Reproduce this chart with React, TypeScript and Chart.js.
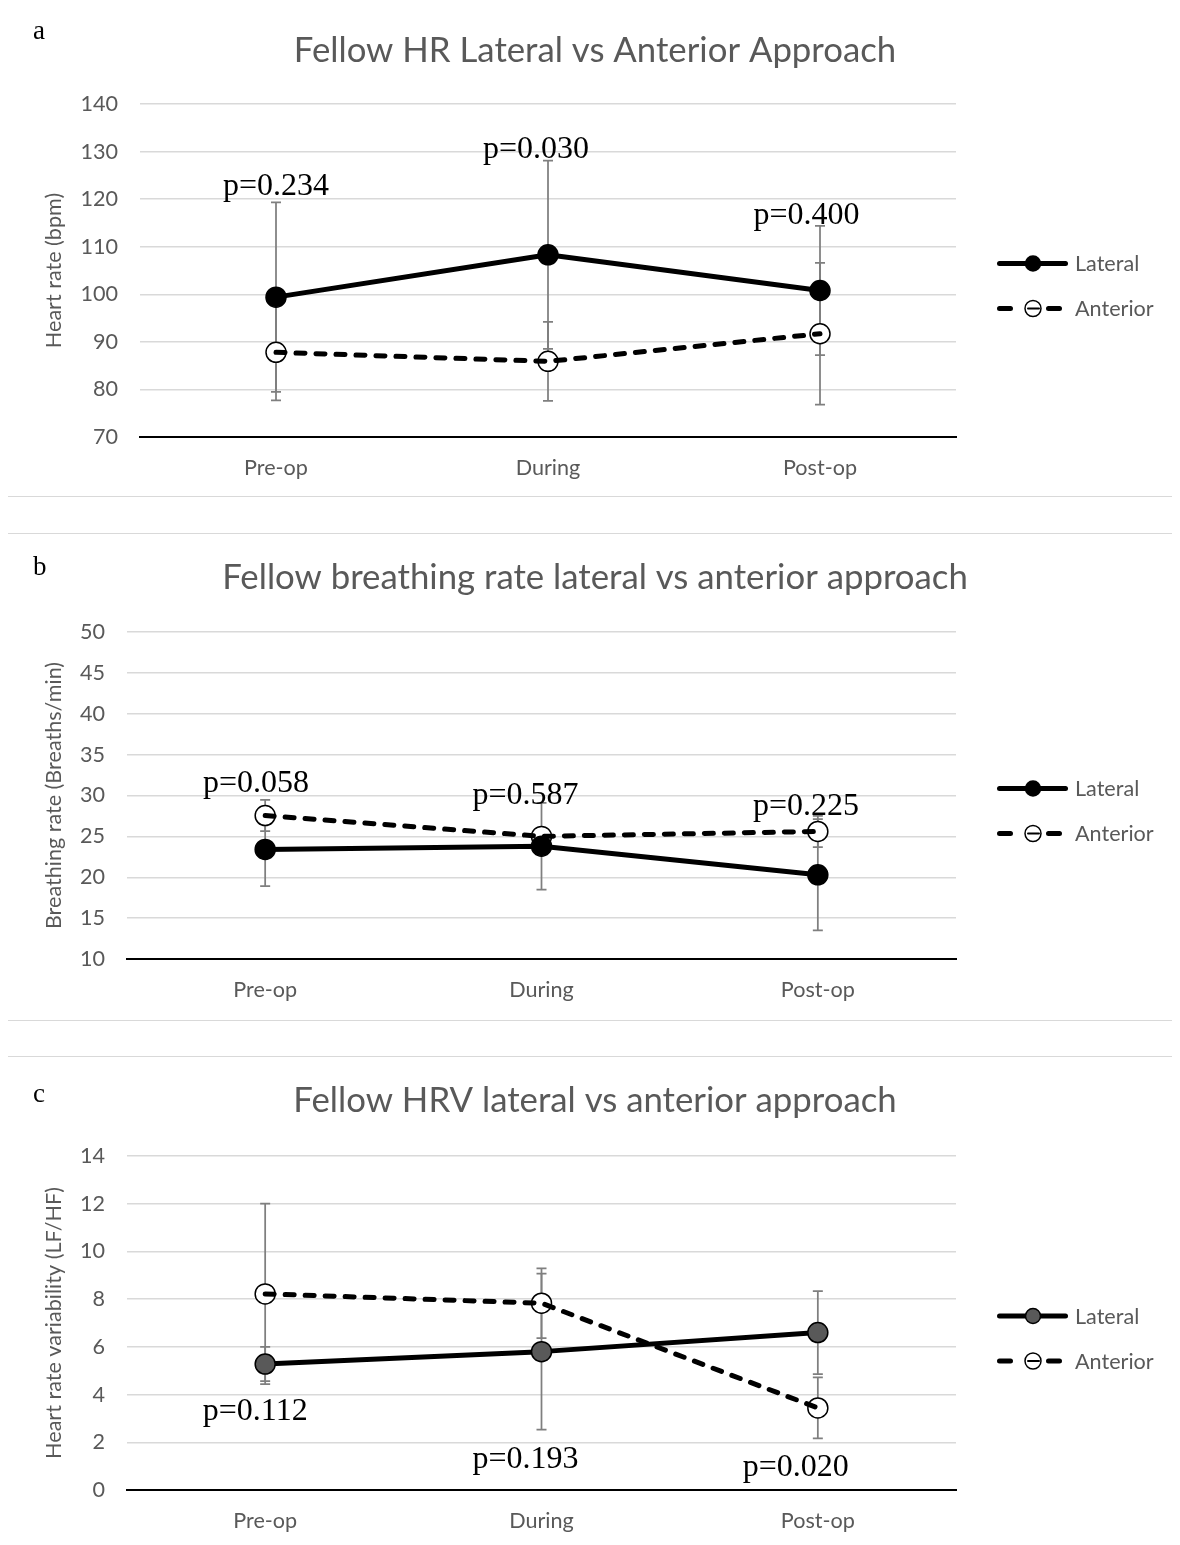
import React, { useEffect, useRef } from "react";
import { Chart, registerables } from "chart.js";

Chart.register(...registerables);

// ---------- data ----------
const categories = ["Pre-op", "During", "Post-op"];
const seriesNames = ["Lateral", "Anterior"];

// a — heart rate (bpm)
const hrTicks = [70, 80, 90, 100, 110, 120, 130, 140];
const hrLateral = [99.4, 108.3, 100.8];
const hrLateralErr = [19.9, 19.8, 13.6];
const hrAnterior = [87.8, 85.9, 91.7];
const hrAnteriorErr = [10.1, 8.3, 14.9];
const hrPText = ["p=0.234", "p=0.030", "p=0.400"];
const hrPAt = [123.2, 130.9, 117.1];
const hrPShift = [0, -0.044, -0.05];

// b — breathing rate (breaths/min)
const brTicks = [10, 15, 20, 25, 30, 35, 40, 45, 50];
const brLateral = [23.4, 23.8, 20.3];
const brLateralErr = [4.5, 5.3, 6.8];
const brAnterior = [27.55, 25.0, 25.6];
const brAnteriorErr = [1.9, 1.0, 1.9];
const brPText = ["p=0.058", "p=0.587", "p=0.225"];
const brPAt = [31.75, 30.24, 28.95];
const brPShift = [-0.033, -0.058, -0.043];

// c — heart rate variability (LF/HF)
const hrvTicks = [0, 2, 4, 6, 8, 10, 12, 14];
const hrvLateral = [5.28, 5.8, 6.6];
const hrvLateralErr = [0.72, 3.27, 1.74];
const hrvAnterior = [8.22, 7.83, 3.44];
const hrvAnteriorErr = [3.78, 1.46, 1.28];
const hrvPText = ["p=0.112", "p=0.193", "p=0.020"];
const hrvPAt = [3.37, 1.37, 1.03];
const hrvPShift = [-0.036, -0.058, -0.08];

// ---------- panel layout ----------
type PanelDef = {
  letter: string;
  title: string;
  yTitle: string;
  ticks: number[];
  lateral: number[];
  lateralErr: number[];
  anterior: number[];
  anteriorErr: number[];
  pText: string[];
  pAt: number[];
  pShift: number[];
  lateralFill: string;
  height: number;
  area: { left: number; top: number; bottom: number };
  letterY: number;
  titleY: number;
  gapAfter: number;
};

const panels: PanelDef[] = [
  {
    letter: "a",
    title: "Fellow HR Lateral vs Anterior Approach",
    yTitle: "Heart rate (bpm)",
    ticks: hrTicks,
    lateral: hrLateral,
    lateralErr: hrLateralErr,
    anterior: hrAnterior,
    anteriorErr: hrAnteriorErr,
    pText: hrPText,
    pAt: hrPAt,
    pShift: hrPShift,
    lateralFill: "#000000",
    height: 488,
    area: { left: 132, top: 96, bottom: 429 },
    letterY: 31,
    titleY: 54,
    gapAfter: 36,
  },
  {
    letter: "b",
    title: "Fellow breathing rate lateral vs anterior approach",
    yTitle: "Breathing rate (Breaths/min)",
    ticks: brTicks,
    lateral: brLateral,
    lateralErr: brLateralErr,
    anterior: brAnterior,
    anteriorErr: brAnteriorErr,
    pText: brPText,
    pAt: brPAt,
    pShift: brPShift,
    lateralFill: "#000000",
    height: 486,
    area: { left: 119, top: 98, bottom: 425 },
    letterY: 41,
    titleY: 55,
    gapAfter: 35,
  },
  {
    letter: "c",
    title: "Fellow HRV lateral vs anterior approach",
    yTitle: "Heart rate variability (LF/HF)",
    ticks: hrvTicks,
    lateral: hrvLateral,
    lateralErr: hrvLateralErr,
    anterior: hrvAnterior,
    anteriorErr: hrvAnteriorErr,
    pText: hrvPText,
    pAt: hrvPAt,
    pShift: hrvPShift,
    lateralFill: "#595959",
    height: 488,
    area: { left: 119, top: 99, bottom: 433 },
    letterY: 45,
    titleY: 55,
    gapAfter: 0,
  },
];

const CANVAS_W = 1164;
const PLOT_RIGHT = 948;
const GREY_TEXT = "#595959";
const SANS = "Lato";
const SERIF = '"Liberation Serif", "Times New Roman", serif';

function fitSize(font: string, sample: string, target: number) {
  const c = document.createElement("canvas").getContext("2d")!;
  c.font = font.replace("{s}", "100px");
  const w = c.measureText(sample).width;
  return w > 0 ? (100 * target) / w : 20;
}

function PanelChart({ p }: { p: PanelDef }) {
  const ref = useRef<HTMLCanvasElement>(null);

  useEffect(() => {
    const canvas = ref.current;
    if (!canvas) return;

    const titleSize = fitSize(
      `400 {s} ${SANS}`,
      "Fellow breathing rate lateral vs anterior approach",
      746
    );
    const labelSize = fitSize(`400 {s} ${SANS}`, "Lateral Anterior Pre-op", 218);
    const H = p.height;

    const decor = {
      id: "decor",
      beforeDatasetsDraw(chart: any) {
        const { ctx } = chart;
        const x = chart.scales.x;
        const y = chart.scales.y;
        ctx.save();
        ctx.strokeStyle = "#7f7f7f";
        ctx.lineWidth = 1.75;
        chart.data.datasets.forEach((ds: any) => {
          ds.errors.forEach((e: number, j: number) => {
            const px = x.getPixelForValue(j);
            const top = y.getPixelForValue(ds.data[j] + e);
            const bot = y.getPixelForValue(ds.data[j] - e);
            ctx.beginPath();
            ctx.moveTo(px, top);
            ctx.lineTo(px, bot);
            ctx.moveTo(px - 5, top);
            ctx.lineTo(px + 5, top);
            ctx.moveTo(px - 5, bot);
            ctx.lineTo(px + 5, bot);
            ctx.stroke();
          });
        });
        // white discs beneath hollow markers (line stays visible through them)
        chart.data.datasets.forEach((ds: any) => {
          if (!ds.hollow) return;
          ds.data.forEach((v: number, j: number) => {
            ctx.beginPath();
            ctx.fillStyle = "#ffffff";
            ctx.arc(x.getPixelForValue(j), y.getPixelForValue(v), ds.pointRadius, 0, Math.PI * 2);
            ctx.fill();
          });
        });
        ctx.restore();
      },
      afterDatasetsDraw(chart: any) {
        const { ctx, chartArea } = chart;
        const x = chart.scales.x;
        const y = chart.scales.y;
        ctx.save();
        // p-values
        ctx.font = `32px ${SERIF}`;
        ctx.fillStyle = "#000";
        ctx.textAlign = "center";
        ctx.textBaseline = "alphabetic";
        p.pText.forEach((t, j) => {
          const px = x.getPixelForValue(j + p.pShift[j]);
          const py = y.getPixelForValue(p.pAt[j]) + 0.338 * 32;
          ctx.fillText(t, px, py);
        });
        // title
        ctx.font = `400 ${titleSize}px ${SANS}`;
        ctx.fillStyle = GREY_TEXT;
        ctx.textAlign = "center";
        ctx.fillText(p.title, 587, p.titleY);
        // panel letter
        ctx.font = `27px ${SERIF}`;
        ctx.fillStyle = "#000";
        ctx.textAlign = "left";
        ctx.fillText(p.letter, 25, p.letterY);
        // legend
        const mid = (chartArea.top + chartArea.bottom) / 2 + 15.5;
        const r0 = chartArea.right;
        chart.data.datasets.forEach((ds: any, i: number) => {
          const ly = mid + (i - 0.5) * 45;
          ctx.strokeStyle = "#000";
          ctx.lineWidth = 5;
          ctx.lineCap = "round";
          ctx.setLineDash(ds.hollow ? [11, 38] : []);
          ctx.beginPath();
          ctx.moveTo(r0 + 43.5, ly);
          ctx.lineTo(r0 + 109.5, ly);
          ctx.stroke();
          ctx.setLineDash([]);
          ctx.beginPath();
          ctx.arc(r0 + 77, ly, ds.hollow ? 8 : 7.5, 0, Math.PI * 2);
          ctx.fillStyle = ds.hollow ? "#ffffff" : ds.pointBackgroundColor;
          ctx.fill();
          ctx.lineWidth = 1.5;
          ctx.stroke();
          if (ds.hollow) {
            ctx.lineWidth = 2;
            ctx.beginPath();
            ctx.moveTo(r0 + 77 - 5, ly);
            ctx.lineTo(r0 + 77 + 6, ly);
            ctx.stroke();
          }
          ctx.font = `${labelSize}px ${SANS}`;
          ctx.fillStyle = GREY_TEXT;
          ctx.textAlign = "left";
          ctx.textBaseline = "middle";
          ctx.fillText(ds.label, r0 + 119, ly + 1);
          ctx.textBaseline = "alphabetic";
        });
        ctx.restore();
      },
    };

    const pointCommon = {
      borderColor: "#000000",
      borderWidth: 5,
      pointRadius: 10,
      pointHoverRadius: 10,
      pointBorderColor: "#000000",
      pointBorderWidth: 1.5,
      pointHoverBorderWidth: 1.5,
      tension: 0,
      fill: false,
      borderJoinStyle: "round" as const,
    };

    const chart = new Chart(canvas, {
      type: "line",
      data: {
        labels: categories,
        datasets: [
          {
            ...pointCommon,
            label: seriesNames[0],
            data: p.lateral,
            errors: p.lateralErr,
            pointBackgroundColor: p.lateralFill,
            pointHoverBackgroundColor: p.lateralFill,
          } as any,
          {
            ...pointCommon,
            label: seriesNames[1],
            data: p.anterior,
            errors: p.anteriorErr,
            hollow: true,
            borderDash: [9, 11],
            borderCapStyle: "round",
            pointBackgroundColor: "rgba(255,255,255,0)",
            pointHoverBackgroundColor: "rgba(255,255,255,0)",
          } as any,
        ],
      },
      options: {
        animation: false,
        responsive: false,
        events: [],
        layout: {
          padding: { left: 0, right: CANVAS_W - PLOT_RIGHT, top: p.area.top, bottom: 0 },
        },
        plugins: {
          legend: { display: false },
          tooltip: { enabled: false },
          title: { display: false },
        },
        scales: {
          x: {
            type: "category",
            offset: true,
            grid: { display: false, drawTicks: false },
            border: { display: true, color: "#000000", width: 2 },
            ticks: {
              color: GREY_TEXT,
              font: { family: SANS, size: labelSize },
              padding: 31.5 - labelSize * 0.6,
              maxRotation: 0,
            },
            afterFit: (s: any) => {
              s.height = H - p.area.bottom;
            },
          },
          y: {
            type: "linear",
            min: p.ticks[0],
            max: p.ticks[p.ticks.length - 1],
            ticks: {
              stepSize: p.ticks[1] - p.ticks[0],
              color: GREY_TEXT,
              font: { family: SANS, size: labelSize },
              padding: 22,
            },
            grid: { color: "#d9d9d9", lineWidth: 1.5, drawTicks: false },
            border: { display: false },
            title: {
              display: true,
              text: p.yTitle,
              color: GREY_TEXT,
              font: { family: SANS, size: labelSize },
              padding: { top: 46 - labelSize * 0.6, bottom: 0 },
            },
            afterFit: (s: any) => {
              s.width = p.area.left;
            },
          },
        },
      } as any,
      plugins: [decor],
    });

    return () => chart.destroy();
  }, [p]);

  return (
    <div
      style={{
        width: CANVAS_W,
        height: p.height,
        border: "1px solid #d9d9d9",
        marginBottom: p.gapAfter,
        background: "#ffffff",
      }}
    >
      <canvas ref={ref} width={CANVAS_W} height={p.height} style={{ display: "block" }} />
    </div>
  );
}

export default function App() {
  return (
    <div style={{ marginLeft: -1, marginTop: -1 }}>
      {panels.map((p) => (
        <PanelChart key={p.letter} p={p} />
      ))}
    </div>
  );
}
